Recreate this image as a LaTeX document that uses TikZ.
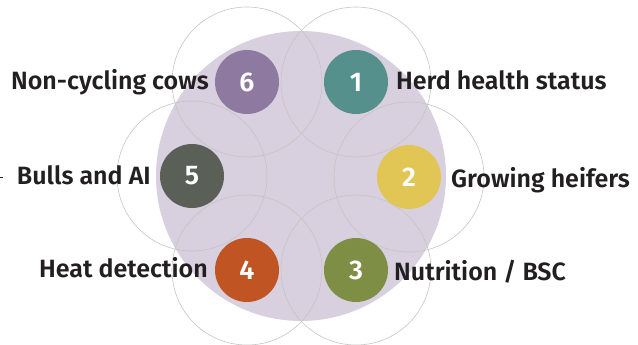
\documentclass[tikz,border=0pt]{standalone}
\usepackage{fontspec}
\setmainfont{Fira Sans}[BoldFont={Fira Sans SemiBold}]
\definecolor{bigfill}{HTML}{D9D0DF}
\definecolor{ring}{HTML}{C4C4C4}
\definecolor{txt}{HTML}{231F20}
\definecolor{cA}{HTML}{55908D}
\definecolor{cB}{HTML}{E2C655}
\definecolor{cC}{HTML}{7F8E45}
\definecolor{cD}{HTML}{C15423}
\definecolor{cE}{HTML}{5A5F58}
\definecolor{cF}{HTML}{8E7AA1}
\tikzset{
  numdot/.style={circle, minimum size=64pt, inner sep=0pt, text=white, font=\bfseries\fontsize{27}{27}\selectfont},
  ringline/.style={draw=ring, line width=0.6pt},
  lbl/.style={text=txt, font=\bfseries\fontsize{25}{25}\selectfont, inner sep=0pt}
}
\begin{document}
\begin{tikzpicture}[x=1pt, y=-1pt]
\useasboundingbox (0,0) rectangle (638,345);
\fill[bigfill] (301,176) circle (145);
\foreach \p in {(356,82),(409,177),(356,270),(247,270),(192,176),(247,82)}
  \draw[ringline] \p circle (75);
\node[numdot, fill=cA] (n1) at (356,82) {1};
\node[numdot, fill=cB] (n2) at (409,177) {2};
\node[numdot, fill=cC] (n3) at (356,270) {3};
\node[numdot, fill=cD] (n4) at (247,270) {4};
\node[numdot, fill=cE] (n5) at (192,176) {5};
\node[numdot, fill=cF] (n6) at (247,82) {6};
\node[lbl, anchor=base west] (l1) at (396,90) {Herd health status};
\node[lbl, anchor=base west] (l2) at (451,187) {Growing heifers};
\node[lbl, anchor=base west] (l3) at (394,280) {Nutrition / BSC};
\node[lbl, anchor=base east] (l4) at (208,277) {Heat detection};
\node[lbl, anchor=base east] (l5) at (151,184) {Bulls and AI};
\node[lbl, anchor=base east] (l6) at (209,90) {Non-cycling cows};
\coordinate (dA) at (0,177);
\coordinate (dB) at (3,177);
\draw[txt, line width=0.6pt] (dA) -- (dB);
\end{tikzpicture}
\end{document}
